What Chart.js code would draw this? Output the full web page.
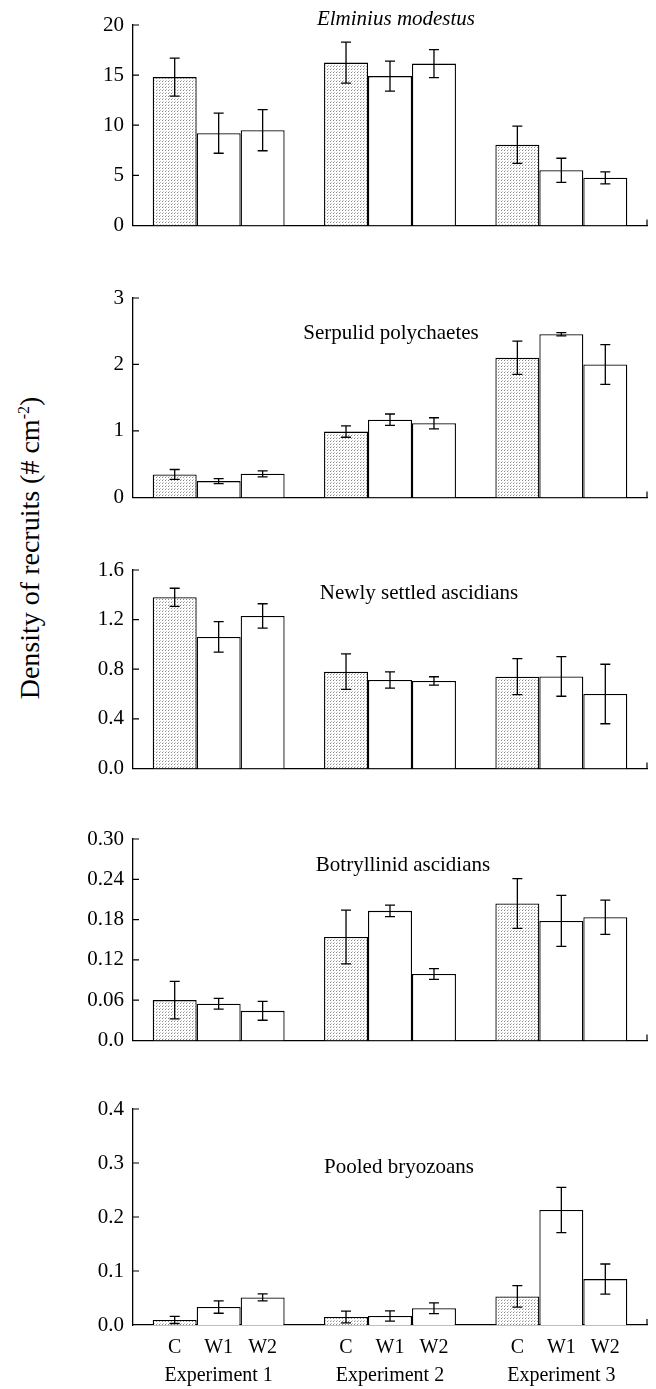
<!DOCTYPE html>
<html>
<head>
<meta charset="utf-8">
<script src="https://cdn.jsdelivr.net/npm/chart.js@4.4.0/dist/chart.umd.min.js"></script>
<style>
  body { margin: 0; background: #fff; width: 656px; height: 1389px; position: relative; overflow: hidden;
         font-family: "Liberation Serif", "Times New Roman", serif; }
  canvas { position: absolute; left: 0; }
  #ylab { position: absolute; left: 30px; top: 548px; transform: translate(-50%, -50%) rotate(-90deg);
          font-size: 28px; white-space: nowrap; color: #000; }
  #ylab sup { font-size: 16px; }
</style>
</head>
<body>
<div id="ylab">Density of recruits (# cm<sup>-2</sup>)</div>
<canvas id="p0"></canvas>
<canvas id="p1"></canvas>
<canvas id="p2"></canvas>
<canvas id="p3"></canvas>
<canvas id="p4"></canvas>
<script>
var experiments = ["Experiment 1", "Experiment 2", "Experiment 3"];
var treatments = ["C", "W1", "W2"];
var titles = ["Elminius modestus", "Serpulid polychaetes", "Newly settled ascidians", "Botryllinid ascidians", "Pooled bryozoans"];

// means [C, W1, W2], each across experiments 1-3, and the error bar half-widths
var elminiusMean = [[14.8, 16.25, 8.05], [9.2, 14.9, 5.5], [9.5, 16.15, 4.75]];
var elminiusErr  = [[1.9, 2.05, 1.85], [2.0, 1.5, 1.2], [2.05, 1.4, 0.6]];
var serpulidMean = [[0.345, 0.99, 2.1], [0.245, 1.17, 2.455], [0.355, 1.115, 2.0]];
var serpulidErr  = [[0.075, 0.085, 0.25], [0.038, 0.085, 0.025], [0.045, 0.083, 0.30]];
var newAscMean   = [[1.38, 0.78, 0.74], [1.06, 0.713, 0.742], [1.23, 0.705, 0.60]];
var newAscErr    = [[0.073, 0.143, 0.145], [0.123, 0.065, 0.16], [0.098, 0.034, 0.24]];
var botryMean    = [[0.060, 0.154, 0.204], [0.0545, 0.193, 0.178], [0.044, 0.099, 0.1835]];
var botryErr     = [[0.028, 0.040, 0.037], [0.008, 0.0085, 0.038], [0.014, 0.008, 0.0255]];
var bryoMean     = [[0.0093, 0.0148, 0.053], [0.0333, 0.0167, 0.213], [0.051, 0.031, 0.085]];
var bryoErr      = [[0.0065, 0.011, 0.020], [0.0115, 0.0095, 0.042], [0.0065, 0.010, 0.028]];

var elminiusTicks = [0, 5, 10, 15, 20];
var elminiusLabels = ["0", "5", "10", "15", "20"];
var serpulidTicks = [0, 1, 2, 3];
var serpulidLabels = ["0", "1", "2", "3"];
var newAscTicks = [0, 0.4, 0.8, 1.2, 1.6];
var newAscLabels = ["0.0", "0.4", "0.8", "1.2", "1.6"];
var botryTicks = [0, 0.06, 0.12, 0.18, 0.24, 0.30];
var botryLabels = ["0.0", "0.06", "0.12", "0.18", "0.24", "0.30"];
var bryoTicks = [0, 0.1, 0.2, 0.3, 0.4];
var bryoLabels = ["0.0", "0.1", "0.2", "0.3", "0.4"];

var panels = [
  { mean: elminiusMean, err: elminiusErr, ticks: elminiusTicks, labels: elminiusLabels, top: 25, zero: 239, tx: 396, ty: 19, italic: true },
  { mean: serpulidMean, err: serpulidErr, ticks: serpulidTicks, labels: serpulidLabels, top: 298, zero: 511, tx: 391, ty: 333 },
  { mean: newAscMean, err: newAscErr, ticks: newAscTicks, labels: newAscLabels, top: 570, zero: 782, tx: 419, ty: 593 },
  { mean: botryMean, err: botryErr, ticks: botryTicks, labels: botryLabels, top: 839, zero: 1054, tx: 403, ty: 865 },
  { mean: bryoMean, err: bryoErr, ticks: bryoTicks, labels: bryoLabels, top: 1109, zero: 1325, tx: 399, ty: 1167 }
];

var FONT = '"Liberation Serif", "Times New Roman", serif';
var PAD_TOP = 22;

function stipple() {
  var c = document.createElement('canvas');
  c.width = 3; c.height = 3;
  var g = c.getContext('2d');
  g.fillStyle = '#fff';
  g.fillRect(0, 0, 3, 3);
  g.fillStyle = '#8a8a8a';
  g.fillRect(0, 0, 1, 1);
  g.fillStyle = '#c4c4c4';
  g.fillRect(1, 2, 1, 1);
  return g.createPattern(c, 'repeat');
}

var errorBars = {
  id: 'errorBars',
  afterDatasetsDraw: function(chart) {
    var ctx = chart.ctx, y = chart.scales.y;
    ctx.save();
    ctx.strokeStyle = '#000';
    ctx.lineWidth = 1.3;
    chart.data.datasets.forEach(function(ds, i) {
      chart.getDatasetMeta(i).data.forEach(function(bar, j) {
        var m = ds.data[j], e = ds.err[j];
        var hi = y.getPixelForValue(m + e), lo = y.getPixelForValue(Math.max(0, m - e));
        ctx.beginPath();
        ctx.moveTo(bar.x, hi); ctx.lineTo(bar.x, lo);
        ctx.moveTo(bar.x - 5, hi); ctx.lineTo(bar.x + 5, hi);
        ctx.moveTo(bar.x - 5, lo); ctx.lineTo(bar.x + 5, lo);
        ctx.stroke();
      });
    });
    ctx.restore();
  }
};

var decorations = {
  id: 'decorations',
  afterDraw: function(chart, args, opts) {
    var ctx = chart.ctx, y = chart.scales.y, area = chart.chartArea;
    ctx.save();
    ctx.strokeStyle = '#000';
    ctx.lineWidth = 1.2;
    ctx.beginPath();
    y.ticks.forEach(function(t) {
      var py = y.getPixelForValue(t.value);
      if (t.value === 0) return;
      ctx.moveTo(area.left, py); ctx.lineTo(area.left + 6, py);
    });
    ctx.moveTo(area.right, area.bottom); ctx.lineTo(area.right, area.bottom - 6);
    ctx.stroke();

    ctx.fillStyle = '#000';
    ctx.textAlign = 'center';
    ctx.textBaseline = 'middle';
    ctx.font = (opts.italic ? 'italic ' : '') + '21px ' + FONT;
    ctx.fillText(opts.title, opts.tx, opts.ty);

    if (opts.showTreatments) {
      ctx.font = '20px ' + FONT;
      chart.data.datasets.forEach(function(ds, i) {
        chart.getDatasetMeta(i).data.forEach(function(bar) {
          ctx.fillText(ds.label, bar.x, area.bottom + 23);
        });
      });
    }
    ctx.restore();
  }
};

var pattern = stipple();

panels.forEach(function(p, k) {
  var last = k === panels.length - 1;
  var canvasTop = p.top - PAD_TOP;
  var bottom = last ? 1389 : p.zero + 8;
  var cv = document.getElementById('p' + k);
  cv.style.top = canvasTop + 'px';
  cv.width = 656; cv.height = bottom - canvasTop;
  cv.style.width = '656px'; cv.style.height = (bottom - canvasTop) + 'px';

  new Chart(cv.getContext('2d'), {
    type: 'bar',
    data: {
      labels: experiments,
      datasets: treatments.map(function(t, i) {
        return {
          label: t,
          data: p.mean[i],
          err: p.err[i],
          backgroundColor: i === 0 ? pattern : '#fff',
          borderColor: '#000',
          borderWidth: 1.3,
          categoryPercentage: 0.77,
          barPercentage: 1.0
        };
      })
    },
    options: {
      responsive: false,
      animation: false,
      layout: { padding: { top: PAD_TOP, right: 9, bottom: last ? 0 : 8, left: 0 } },
      plugins: {
        legend: { display: false },
        tooltip: { enabled: false },
        decorations: { title: titles[k], tx: p.tx, ty: p.ty - canvasTop, italic: !!p.italic, showTreatments: last }
      },
      scales: {
        x: {
          grid: { display: false, drawTicks: false },
          border: { display: true, color: '#000', width: 1.3 },
          ticks: { display: last, color: '#000', font: { family: FONT, size: 20 }, padding: 39, maxRotation: 0 },
          afterFit: function(s) { s.height = last ? 64 : 0; }
        },
        y: {
          min: 0,
          max: p.ticks[p.ticks.length - 1],
          grid: { display: false, drawTicks: false },
          border: { display: true, color: '#000', width: 1.3 },
          afterBuildTicks: function(s) { s.ticks = p.ticks.map(function(v) { return { value: v }; }); },
          ticks: {
            color: '#000',
            font: { family: FONT, size: 21 },
            padding: 9,
            callback: function(v, i) { return p.labels[i]; }
          },
          afterFit: function(s) { s.width = 133; }
        }
      }
    },
    plugins: [errorBars, decorations]
  });
});
</script>
</body>
</html>
